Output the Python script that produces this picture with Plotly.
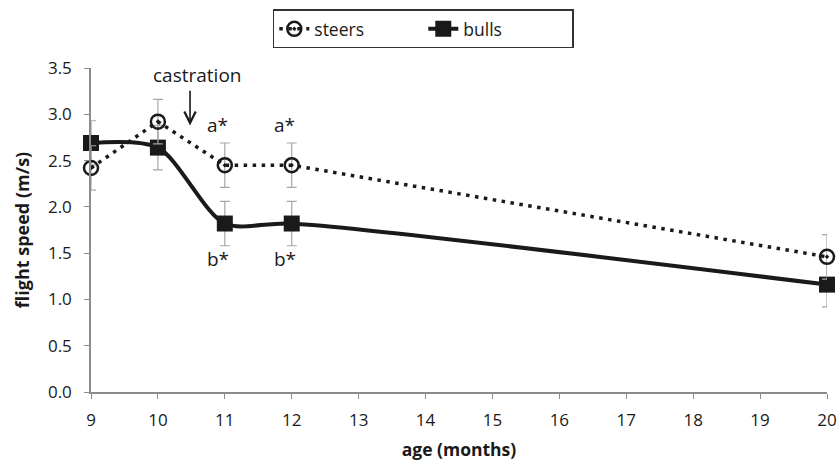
import plotly.graph_objects as go

# Flight speed by age for steers and bulls (mean ± SE)
age = [9, 10, 11, 12, 20]
steers = [2.42, 2.92, 2.45, 2.45, 1.46]
steers_se = [0.24, 0.24, 0.24, 0.24, 0.24]
bulls = [2.69, 2.64, 1.82, 1.82, 1.16]
bulls_se = [0.24, 0.24, 0.24, 0.24, 0.24]

x_ticks = list(range(9, 21))
y_ticks = [0.0, 0.5, 1.0, 1.5, 2.0, 2.5, 3.0, 3.5]

FONT = "Open Sans"
INK = "#1a1a1a"
AXIS_GRAY = "#8c8c8c"
ERR_GRAY = "#a6a6a6"

fig = go.Figure()

fig.add_trace(go.Scatter(
    x=age, y=bulls, name="bulls", mode="lines+markers",
    line=dict(color=INK, width=4, shape="spline", smoothing=0.8),
    marker=dict(symbol="square", size=16, color=INK),
    error_y=dict(type="data", array=bulls_se, color=ERR_GRAY, thickness=1.2, width=5),
    cliponaxis=False,
))

fig.add_trace(go.Scatter(
    x=age, y=steers, name="steers", mode="lines+markers",
    line=dict(color=INK, width=3.5, dash="3.5px,5.5px"),
    marker=dict(symbol="circle-open-dot", size=14, color=INK,
                line=dict(width=2.5, color=INK)),
    error_y=dict(type="data", array=steers_se, color=ERR_GRAY, thickness=1.2, width=5),
    cliponaxis=False,
))

# significance letters
for xi in [11, 12]:
    i = age.index(xi)
    fig.add_annotation(x=xi, y=steers[i] + steers_se[i], text="a*", showarrow=False,
                       yanchor="bottom", yshift=3, xshift=-7,
                       font=dict(family=FONT, size=19, color=INK))
    fig.add_annotation(x=xi, y=bulls[i] - bulls_se[i], text="b*", showarrow=False,
                       yanchor="top", yshift=2, xshift=-7,
                       font=dict(family=FONT, size=19, color=INK))

# castration marker
fig.add_annotation(x=10.48, y=2.88, ax=10.48, ay=3.27, xref="x", yref="y",
                   axref="x", ayref="y", text="", showarrow=True,
                   arrowhead=5, arrowsize=1.4, arrowwidth=1.6, arrowcolor=INK)
fig.add_annotation(x=10.58, y=3.42, text="castration", showarrow=False,
                   font=dict(family=FONT, size=19, color=INK))

fig.update_layout(
    width=838, height=461,
    margin=dict(l=91, r=11, t=67, b=69),
    plot_bgcolor="white", paper_bgcolor="white",
    font=dict(family=FONT, size=17, color=INK),
    showlegend=True,
    legend=dict(orientation="h", x=0.247, xanchor="left", y=1.177, yanchor="top",
                bordercolor="#333333", borderwidth=1.5, bgcolor="white",
                traceorder="reversed", font=dict(family=FONT, size=17.5, color=INK),
                entrywidth=104),
    xaxis=dict(range=[9, 20], tickvals=x_ticks, ticktext=[str(v) for v in x_ticks],
               showgrid=False, zeroline=False, showline=True, linecolor=AXIS_GRAY,
               linewidth=1.5, ticks="outside", ticklen=5, tickcolor=AXIS_GRAY,
               tickfont=dict(family=FONT, size=17, color=INK), ticklabelstandoff=7,
               automargin=False,
               title=dict(text="<b>age (months)</b>",
                          font=dict(family=FONT, size=17.5, color=INK), standoff=14)),
    yaxis=dict(range=[0, 3.5], tickvals=y_ticks, ticktext=[f"{v:.1f}" for v in y_ticks],
               showgrid=False, zeroline=False, showline=True, linecolor=AXIS_GRAY,
               linewidth=1.5, ticks="outside", ticklen=5, tickcolor=AXIS_GRAY,
               tickfont=dict(family=FONT, size=17, color=INK), ticklabelstandoff=9,
               automargin=False,
               title=dict(text="<b>flight speed (m/s)</b>",
                          font=dict(family=FONT, size=18, color=INK), standoff=14)),
)

fig.write_html("out.html")
